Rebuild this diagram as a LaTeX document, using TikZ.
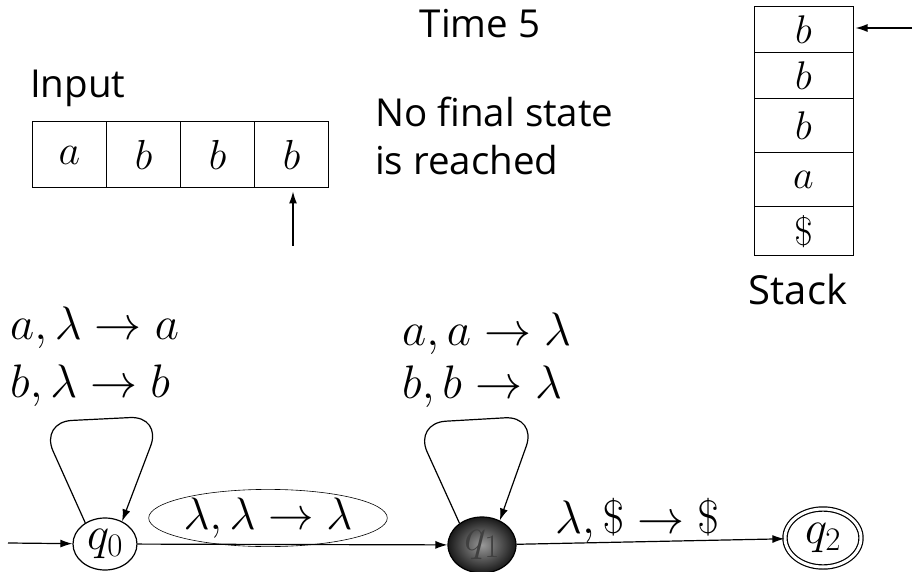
\RequirePackage{fix-cm}
\documentclass[tikz,border=0pt]{standalone}
\usepackage{fontspec}
\setsansfont{Open Sans}
\usetikzlibrary{arrows.meta,shapes.geometric}
\begin{document}
\begin{tikzpicture}[x=1pt,y=-1pt,
  arr/.style={line width=1.2pt,-{Latex[length=12pt,width=8pt]}},
  cell/.style={draw,line width=1pt,inner sep=0pt,minimum width=74pt,minimum height=66pt,font=\fontsize{42}{48}\selectfont},
  scell/.style={draw,line width=1pt,inner sep=0pt,minimum width=99pt,font=\fontsize{40}{48}\selectfont},
  lbl/.style={inner sep=0pt,font=\fontsize{47}{54}\selectfont},
  txt/.style={inner sep=0pt,font=\sffamily\fontsize{38.5}{44}\selectfont},
  state/.style={ellipse,draw,line width=1.2pt,inner sep=0pt,minimum width=64pt,minimum height=52pt,font=\fontsize{47}{54}\selectfont},
]
\useasboundingbox (0,0) rectangle (919,572);

% texts
\node[txt,anchor=base] (time) at (480,38) {Time 5};
\node[txt,anchor=base west] (input) at (30,98) {Input};
\node[txt,anchor=base west] (nofin) at (375,127) {No final state};
\node[txt,anchor=base west] (reach) at (375,175) {is reached};
\node[txt,anchor=base,font=\sffamily\fontsize{40}{44}\selectfont] (stack) at (798,305) {Stack};

% input tape
\node[cell] (in1) at (69.5,155) {$a$};
\node[cell] (in2) at (143.5,155) {$b$};
\node[cell] (in3) at (217.5,155) {$b$};
\node[cell] (in4) at (291.5,155) {$b$};
\coordinate (ptr) at (293,246);
\draw[arr,shorten >=3pt] (ptr) -- (in4.south -| ptr);

% stack
\node[scell,minimum height=46pt] (s1) at (803.5,30) {$b$};
\node[scell,minimum height=46pt] (s2) at (803.5,76) {$b$};
\node[scell,minimum height=54pt] (s3) at (803.5,126) {$b$};
\node[scell,minimum height=54pt] (s4) at (803.5,180) {$a$};
\node[scell,minimum height=49pt] (s5) at (803.5,231.5) {$\$$};
\coordinate (sptr) at (912,28);
\draw[arr,shorten >=2pt] (sptr) -- (s1.east |- sptr);

% states
\node[state] (q0) at (105,544) {$q_0$};
\node[state,minimum width=68pt,minimum height=56pt,shading=radial,inner color=black!40,outer color=black!90,text=black!75] (q1) at (482,545) {$q_1$};
\node[state,double,double distance=3pt,minimum width=76pt,minimum height=58pt] (q2) at (823,538) {$q_2$};

\coordinate (start) at (8,543);
\draw[arr] (start) -- (q0);
\draw[arr] (q0) -- (q1);
\draw[arr] (q1) -- (q2);

% edge labels
\node[lbl,ellipse,draw,line width=0.6pt,minimum width=222pt,minimum height=43pt,font=\fontsize{45.5}{52}\selectfont] (e01) at (268,518) {$\lambda,\lambda\to\lambda$};
\node[lbl,anchor=base west] (e12) at (555,533) {$\lambda,\$\to\$$};

% loops
\draw[arr,rounded corners=32pt] (q0.133) -- (40,422) -- (162,416) -- (q0.53);
\draw[arr,rounded corners=32pt] (q1.136) -- (414,423) -- (537,416) -- (q1.54);

\node[lbl,anchor=base west] (l0a) at (10,340) {$a,\lambda\to a$};
\node[lbl,anchor=base west] (l0b) at (10,397) {$b,\lambda\to b$};
\node[lbl,anchor=base west] (l1a) at (402,345) {$a,a\to\lambda$};
\node[lbl,anchor=base west] (l1b) at (402,398) {$b,b\to\lambda$};
\end{tikzpicture}
\end{document}
